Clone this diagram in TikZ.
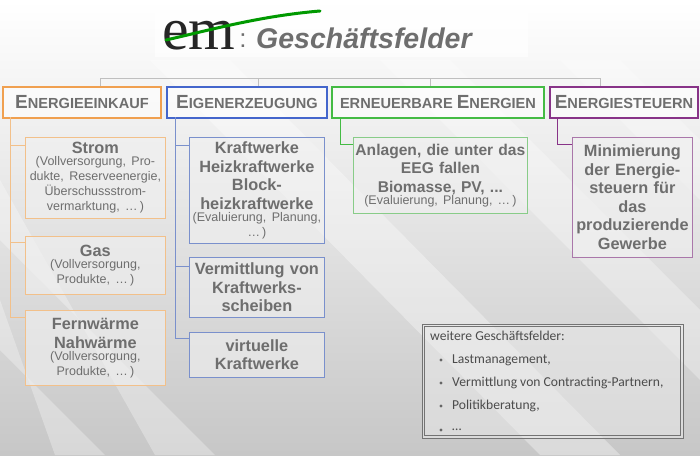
\documentclass[tikz,border=0pt]{standalone}
\usepackage{fontspec}
\setmainfont{Liberation Sans}
\newfontfamily\calfont{Carlito}
\newfontfamily\logofont{Liberation Serif}
\usetikzlibrary{calc}
\definecolor{txt}{HTML}{6E6E6E}
\definecolor{orng}{HTML}{F0A050}
\definecolor{blu}{HTML}{4466CC}
\definecolor{grn}{HTML}{44BB44}
\definecolor{purp}{HTML}{883388}
\definecolor{lorng}{HTML}{F2C08A}
\definecolor{lblu}{HTML}{7A90CC}
\definecolor{lgrn}{HTML}{88CC88}
\definecolor{lpurp}{HTML}{AA77AA}
\newcommand{\hd}[2]{{\fontsize{19}{19}\selectfont #1}{\fontsize{14.6}{14.6}\selectfont #2}}
\newcommand{\sm}{\mdseries\fontsize{12.5}{15}\selectfont}
\tikzset{
 head/.style={draw=#1,line width=2pt,fill=white,fill opacity=.6,text opacity=1,text=txt,font=\bfseries,inner sep=0pt,anchor=north west},
 sub/.style={draw=#1,line width=.8pt,fill=black!6,fill opacity=.6,text opacity=1,text=txt,inner sep=0pt,anchor=north west,align=center,font=\bfseries\fontsize{16.3}{18.5}\selectfont},
 tree/.style={draw=#1,line width=.8pt}
}
\begin{document}
\begin{tikzpicture}[x=1pt,y=-1pt]
\useasboundingbox (0,0) rectangle (700,455);
\shade[top color=white,bottom color=black!22] (0,0) rectangle (700,455);
\begin{scope}
\clip (0,0) rectangle (700,455);
\fill[white,opacity=.35] (150,60) -- (230,60) -- (620,455) -- (540,455) -- cycle;
\fill[white,opacity=.3] (0,180) -- (0,240) -- (215,455) -- (155,455) -- cycle;
\fill[white,opacity=.3] (0,300) -- (0,350) -- (105,455) -- (55,455) -- cycle;
\fill[white,opacity=.3] (380,60) -- (450,60) -- (780,390) -- (780,460) -- cycle;
\fill[white,opacity=.25] (560,60) -- (620,60) -- (780,220) -- (780,280) -- cycle;
\end{scope}
% logo
\fill[white,opacity=.7] (155,4) rectangle (528,57);
\node[font=\logofont\fontsize{60}{60}\selectfont,text=black!85,inner sep=0pt,anchor=base] (em) at (199,49) {em};
\draw[green!60!black,line width=3pt,line cap=round] (166,40) .. controls (210,30) and (260,16) .. (320,11);
\node[font=\fontsize{26}{26}\selectfont,text=txt,inner sep=0pt,anchor=base] (colon) at (243,47) {:};
\node[font=\bfseries\itshape\fontsize{28.5}{28.5}\selectfont,text=txt,inner sep=0pt,anchor=base west] (title) at (256,48) {Geschäftsfelder};
% top line
\coordinate (t1) at (100,78); \coordinate (t4) at (600,78);
\draw[black!25,line width=.8pt] (t1) -- (t4);
% heads
\node[head=orng,minimum width=158pt,minimum height=31pt] (h1) at (2,86) {\hd{E}{NERGIEEINKAUF}};
\node[head=blu,minimum width=160pt,minimum height=31pt] (h2) at (166,86) {\hd{E}{IGENERZEUGUNG}};
\node[head=grn,minimum width=212pt,minimum height=31pt] (h3) at (331,86) {{\fontsize{14.6}{14.6}\selectfont ERNEUERBARE }\hd{E}{NERGIEN}};
\node[head=purp,minimum width=148pt,minimum height=31pt] (h4) at (549,86) {\hd{E}{NERGIESTEUERN}};
\foreach \x in {100,258,430,600} \draw[black!25,line width=.8pt] (\x,78) -- (\x,86);
% orange
\node[sub=lorng,minimum width=140pt,minimum height=81pt,text width=140pt] (s1) at (25,137) {Strom\\[-3pt]{\sm (Vollversorgung, Pro-\\dukte, Reserveenergie,\\Überschussstrom-\\vermarktung, \dots\,)\par}};
\node[sub=lorng,minimum width=140pt,minimum height=58pt,text width=140pt] (s2) at (25,236) {Gas\\[-3pt]{\sm (Vollversorgung,\\Produkte, \dots\,)\par}};
\node[sub=lorng,minimum width=140pt,minimum height=75pt,text width=140pt] (s3) at (25,310) {Fernwärme\\Nahwärme\\[-3pt]{\sm (Vollversorgung,\\Produkte, \dots\,)\par}};
\draw[tree=lorng] (10,117) |- (25,317);
\draw[tree=lorng] (10,145) -- (25,145);
\draw[tree=lorng] (10,242) -- (25,242);
% blue
\node[sub=lblu,minimum width=135pt,minimum height=106pt,text width=135pt] (b1) at (189,137) {Kraftwerke\\Heizkraftwerke\\Block-\\heizkraftwerke\\[-3pt]{\sm (Evaluierung, Planung,\\\dots\,)\par}};
\node[sub=lblu,minimum width=135pt,minimum height=60pt,text width=135pt] (b2) at (189,257) {Vermittlung von\\Kraftwerks-\\scheiben};
\node[sub=lblu,minimum width=135pt,minimum height=45pt,text width=135pt] (b3) at (189,332) {virtuelle\\Kraftwerke};
\draw[tree=lblu] (175,117) |- (189,338);
\draw[tree=lblu] (175,145) -- (189,145);
\draw[tree=lblu] (175,266) -- (189,266);
% green
\node[sub=lgrn,minimum width=174pt,minimum height=76pt,text width=174pt,font=\bfseries\fontsize{15.6}{18.5}\selectfont] (g1) at (353,137) {Anlagen, die unter das\\EEG fallen\\Biomasse, PV, ...\\[-3pt]{\sm (Evaluierung, Planung, \dots\,)\par}};
\draw[tree=grn] (340,117) |- (353,144);
% purple
\node[sub=lpurp,minimum width=120pt,minimum height=120pt,text width=120pt] (p1) at (572,137) {Minimierung\\der Energie-\\steuern für\\das\\produzierende\\Gewerbe};
\draw[tree=purp] (557,117) |- (572,144);
% bottom box
\draw[black!55,line width=.6pt,fill=black!8,fill opacity=.5] (422,324) rectangle (683,438);
\draw[black!55,line width=.6pt] (424.5,326.5) rectangle (680.5,435.5);
\node[anchor=north west,text=black!70,font=\calfont\fontsize{13.6}{13.6}\selectfont,align=left,inner sep=0pt] (wg) at (430,331) {weitere Geschäftsfelder:};
\foreach \y/\t/\n in {360/{Lastmanagement,}/l1,383/{Vermittlung von Contracting-Partnern,}/l2,406/{Politikberatung,}/l3,430/{\dots}/l4}{
 \fill[black!60] (441,\y) circle (1.6pt);
 \node[anchor=west,text=black!70,font=\calfont\fontsize{13.6}{13.6}\selectfont,inner sep=0pt] (\n) at (452,\y) {\t};
}
\end{tikzpicture}
\end{document}
